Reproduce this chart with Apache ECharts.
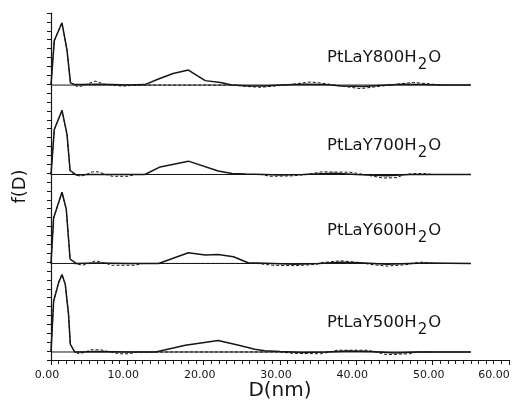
<!DOCTYPE html>
<html><head><meta charset="utf-8">
<script src="https://cdn.jsdelivr.net/npm/echarts@6/dist/echarts.min.js"></script>
<style>html,body{margin:0;padding:0;background:#fff}#c{width:519px;height:402px}</style>
</head><body><div id="c"></div>
<script>
// Panel names (top to bottom) and vertical baselines (y-units) of the stacked panels
const panelNames = ['PtLaY800H', 'PtLaY700H', 'PtLaY600H', 'PtLaY500H'];
const panelOffsets = [30.9, 20.85, 10.85, 0.9];
const baselineEnd = 55;
const xTicks = [0, 10, 20, 30, 40, 50, 60];

// f(D) solid curves [D(nm), f]
const solid800 = [[0,0],[0.43,5.0],[1.44,7.0],[2.1,3.9],[2.55,0.25],[3.2,0.05],[4,0.05],[6,0.1],[8,0.05],[10,0.0],[12.3,0.05],[14,0.65],[16,1.3],[18,1.69],[20.2,0.5],[22.2,0.3],[23.7,0.0],[26,-0.1],[28,-0.1],[30,0],[33,0.1],[36,0.05],[38,-0.1],[41,-0.15],[43,-0.05],[46,0.1],[49,0.05],[51,0],[55,0]];
const solid700 = [[0,0],[0.43,5.05],[1.44,7.2],[2.1,4.5],[2.5,0.45],[3.3,-0.05],[5,0],[8,0],[12.3,0],[14.3,0.85],[18,1.5],[21.9,0.4],[23.7,0.1],[25.5,0.05],[28,0],[30,-0.05],[33,0],[37,0.15],[40,0],[44,-0.15],[47,0],[50,0],[55,0]];
const solid600 = [[0,0],[0.34,5.1],[1.44,8.0],[2.0,6.1],[2.5,0.5],[3.3,0],[6,0.05],[10,0],[14.1,0],[18,1.2],[20.2,0.95],[21.9,1.0],[23.9,0.75],[25.9,0.05],[27,0.05],[29,0],[32,-0.1],[35,0],[38,0.15],[41,0.05],[44,-0.1],[47,0],[49,0.05],[55,0]];
const solid500 = [[0,0],[0.34,5.7],[1.0,7.8],[1.44,8.7],[1.87,7.6],[2.3,4.2],[2.53,0.87],[3.1,0],[4,0],[6,0.05],[10,0],[13.7,0],[17.6,0.75],[21.9,1.3],[24.6,0.75],[26.7,0.3],[28,0.15],[30,0.05],[33,-0.05],[36,0],[39,0.1],[42,0.05],[45,-0.1],[48,0],[55,0]];

// dashed curves [D(nm), f]
const dashed800 = [[0,0],[0.43,5.0],[1.44,7.0],[2.1,3.9],[2.55,0.25],[3.0,0],[3.6,-0.2],[4.4,0],[5.8,0.45],[7,0.1],[8,0],[9.3,-0.12],[10.5,-0.05],[12,0],[16,0],[20,0],[24,0],[25.5,-0.15],[27.5,-0.25],[30,-0.05],[31.7,0.1],[34,0.35],[36.5,0.1],[38,-0.1],[40.5,-0.4],[43,-0.15],[44.8,0.05],[47.5,0.3],[50.5,0.05],[51.3,0]];
const dashed700 = [[0,0],[0.43,5.05],[1.44,7.2],[2.1,4.5],[2.5,0.45],[3.0,0],[3.9,-0.2],[4.6,0],[5.4,0.3],[6.2,0.3],[7,0.05],[8,-0.2],[10.1,-0.2],[11,0],[12,0],[25,0],[27.5,0],[28.7,-0.2],[31.7,-0.15],[33.5,0],[35.5,0.3],[39.2,0.25],[41,0],[43.5,-0.4],[45.3,-0.35],[46.3,0],[47.5,0.1],[49,0.1],[50,0]];
const dashed600 = [[0,0],[0.34,5.1],[1.44,8.0],[2.0,6.1],[2.5,0.5],[3,0],[4.1,-0.2],[5,0],[5.8,0.3],[6.8,0.1],[8,-0.2],[11,-0.2],[12,0],[20,0],[27,0],[29,-0.2],[32,-0.25],[34.8,-0.1],[35.5,0.1],[38,0.3],[40.5,0.1],[41.8,-0.1],[44,-0.3],[47,-0.1],[47.5,0.05],[48.6,0.15],[49.7,0.05],[50.5,0]];
const dashed500 = [[0,0],[0.34,5.7],[1.0,7.8],[1.44,8.7],[1.87,7.6],[2.3,4.2],[2.53,0.87],[3.1,0],[3.7,-0.2],[4.5,0],[5.2,0.25],[6.5,0.25],[7.5,0.05],[9,-0.2],[10.1,-0.2],[11.5,0],[20,0],[28,0],[30,0],[31.7,-0.15],[35.3,-0.2],[36.5,0],[37.5,0.2],[41.4,0.2],[42.5,0],[44,-0.3],[47,-0.2],[48,0],[50,0]];

const solids = [solid800, solid700, solid600, solid500];
const dasheds = [dashed800, dashed700, dashed600, dashed500];

const INK = '#161616';
const series = [];
panelNames.forEach((name, i) => {
  const off = panelOffsets[i];
  series.push({
    type: 'line', name: name + ' baseline', silent: true, symbol: 'none',
    data: [[0, off], [baselineEnd, off]],
    lineStyle: { color: INK, width: 1 }, z: 1
  });
  series.push({
    type: 'line', name: name + ' dashed', silent: true, symbol: 'none',
    data: dasheds[i].map(p => [p[0], p[1] + off]),
    lineStyle: { color: INK, width: 1, type: [3, 2] }, z: 2
  });
  series.push({
    type: 'line', name: name, silent: true, symbol: 'none',
    data: solids[i].map(p => [p[0], p[1] + off]),
    lineStyle: { color: INK, width: 1.5 }, z: 3
  });
});

const labelTops = [49, 137, 222, 314];
const graphic = panelNames.map((name, i) => ({
  type: 'text', left: 327, top: labelTops[i], silent: true,
  style: {
    text: '{a|' + name + '}{s|2}{a|O}',
    rich: {
      a: { fontFamily: 'DejaVu Sans', fontSize: 16.5, lineHeight: 18, verticalAlign: 'top', fill: INK, color: INK },
      s: { fontFamily: 'DejaVu Sans', fontSize: 15, lineHeight: 18, verticalAlign: 'top', padding: [9, 1, 0, 1], fill: INK, color: INK }
    }
  }
}));

const chart = echarts.init(document.getElementById('c'), null, { renderer: 'canvas' });
chart.setOption({
  animation: false,
  backgroundColor: '#fff',
  grid: { left: 51, right: 10, top: 13, bottom: 42, containLabel: false, outerBoundsMode: 'none' },
  xAxis: {
    type: 'value', min: 0, max: 60, interval: 10,
    name: 'D(nm)', nameLocation: 'middle', nameGap: 21, nameMoveOverlap: false,
    nameTextStyle: { fontFamily: 'DejaVu Sans', fontSize: 20, color: INK, verticalAlign: 'top' },
    axisLine: { show: true, onZero: false, lineStyle: { color: INK, width: 1.2 } },
    axisTick: { show: true, length: 5, lineStyle: { color: INK, width: 1 } },
    minorTick: { show: true, splitNumber: 10, length: 4, lineStyle: { color: INK, width: 1 } },
    splitLine: { show: false }, minorSplitLine: { show: false },
    axisLabel: {
      margin: 10, fontFamily: 'DejaVu Sans', fontSize: 11, color: INK,
      padding: [0, 8, 0, 0],
      formatter: v => xTicks.indexOf(v) === xTicks.length - 1 ? '{e|' + v.toFixed(2) + '}' : v.toFixed(2),
      rich: { e: { fontFamily: 'DejaVu Sans', fontSize: 11, color: INK, padding: [0, 22, 0, 0] } }
    }
  },
  yAxis: {
    type: 'value', min: 0, max: 39, interval: 1,
    name: 'f(D)', nameLocation: 'middle', nameGap: 22, nameRotate: 90, nameMoveOverlap: false,
    nameTextStyle: { fontFamily: 'DejaVu Sans', fontSize: 18, color: INK },
    axisLine: { show: true, lineStyle: { color: INK, width: 1.2 } },
    axisTick: { show: true, length: 4, lineStyle: { color: INK, width: 1 } },
    axisLabel: { show: false },
    splitLine: { show: false }
  },
  graphic: graphic,
  series: series
});
</script></body></html>
